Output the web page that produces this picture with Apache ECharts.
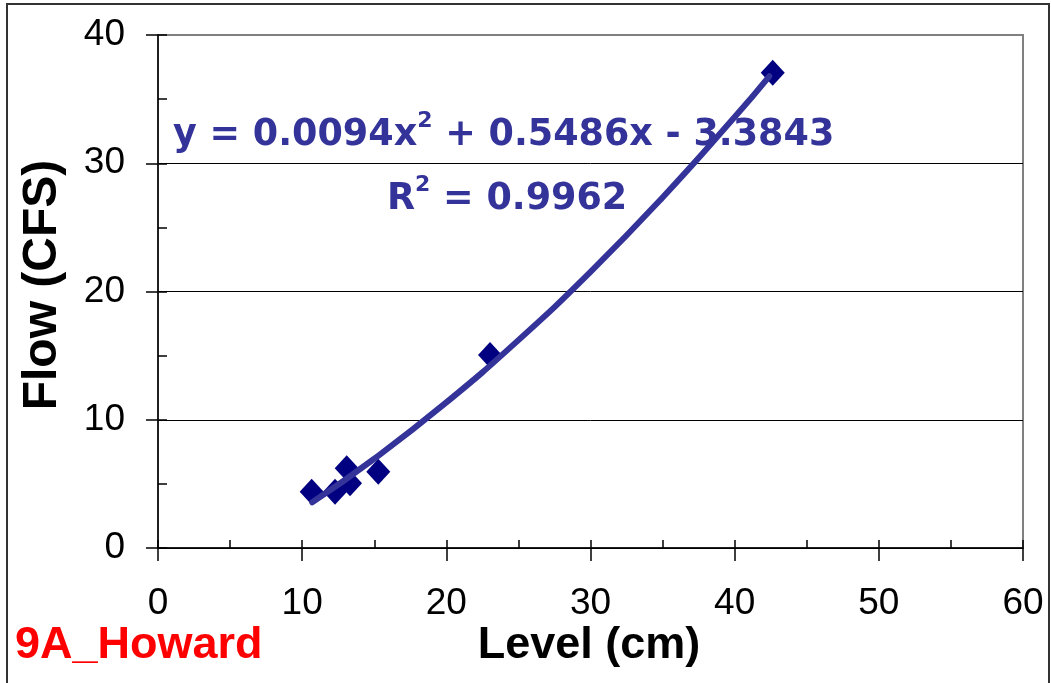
<!DOCTYPE html>
<html>
<head>
<meta charset="utf-8">
<script src="https://cdn.jsdelivr.net/npm/echarts@6/dist/echarts.min.js"></script>
<style>
  html, body { margin: 0; padding: 0; background: #fff; }
  #chart { width: 1051px; height: 683px; }
</style>
</head>
<body>
<div id="chart"></div>
<script>
// measured points
const levelCm = [10.66, 12.28, 13.32, 13.09, 15.28, 23.03, 42.64];
const flowCfs = [4.39, 4.39, 5.04, 6.21, 5.95, 15.05, 37.06];

// poly trendline
const trendLevel = [10.7, 15, 20, 25, 30, 35, 40, 42.4];
const trendFlow = [3.56, 6.96, 11.35, 16.21, 21.53, 27.33, 33.6, 36.78];

const xTicks = [0, 10, 20, 30, 40, 50, 60];
const yTicks = [0, 10, 20, 30, 40];

const eqText = ['y = 0.0094x', '2', ' + 0.5486x - 3.3843'];
const r2Text = ['R', '2', ' = 0.9962'];

const labelFont = { fontFamily: 'Liberation Sans', fontSize: 37, color: '#000' };
const blue = '#333399';

const richEq = {
  m: { fontFamily: 'DejaVu Sans', fontWeight: 'bold', fontSize: 36.5, lineHeight: 52, fill: blue },
  s: { fontFamily: 'DejaVu Sans', fontWeight: 'bold', fontSize: 22, lineHeight: 22, verticalAlign: 'top', fill: blue }
};

let myChart = echarts.init(document.getElementById('chart'));
myChart.setOption({
  animation: false,
  backgroundColor: '#fff',
  grid: {
    left: 158, top: 35, right: 28, bottom: 135,
    show: true, borderColor: '#808080', borderWidth: 2
  },
  xAxis: [
    {
      type: 'value', min: xTicks[0], max: xTicks[xTicks.length - 1], interval: 10,
      axisLine: { onZero: false, lineStyle: { color: '#000', width: 1.5 } },
      axisTick: { inside: false, length: 13, lineStyle: { color: '#000', width: 1.5 } },
      axisLabel: Object.assign({ margin: 37 }, labelFont),
      splitLine: { show: false }
    },
    {
      type: 'value', min: 0, max: 60, interval: 5, position: 'bottom',
      axisLine: { show: false },
      axisTick: { inside: true, length: 8, lineStyle: { color: '#000', width: 1.5 } },
      axisLabel: { show: false },
      splitLine: { show: false }
    }
  ],
  yAxis: [
    {
      type: 'value', min: yTicks[0], max: yTicks[yTicks.length - 1], interval: 10,
      axisLine: { show: true, onZero: false, lineStyle: { color: '#000', width: 1.5 } },
      axisTick: { show: true, inside: false, length: 12, lineStyle: { color: '#000', width: 1.5 } },
      axisLabel: Object.assign({ margin: 33 }, labelFont),
      splitLine: { show: true, showMaxLine: false, lineStyle: { color: '#000', width: 1 } }
    },
    {
      type: 'value', min: 0, max: 40, interval: 5, position: 'left',
      axisLine: { show: false },
      axisTick: { show: true, inside: true, length: 9, lineStyle: { color: '#000', width: 1.5 } },
      axisLabel: { show: false },
      splitLine: { show: false }
    }
  ],
  series: [
    {
      type: 'scatter',
      xAxisIndex: 0, yAxisIndex: 0,
      data: levelCm.map((x, i) => [x, flowCfs[i]]),
      symbol: 'diamond',
      symbolSize: [24, 26],
      itemStyle: { color: '#000080', opacity: 1 },
      z: 2
    },
    {
      type: 'line',
      xAxisIndex: 0, yAxisIndex: 0,
      data: trendLevel.map((x, i) => [x, trendFlow[i]]),
      smooth: true,
      showSymbol: false,
      lineStyle: { color: blue, width: 6, cap: 'round' },
      z: 3
    }
  ],
  graphic: [
    {
      type: 'rect', silent: true,
      shape: { x: 7, y: 4, width: 1042, height: 700 },
      style: { fill: 'none', stroke: '#333', lineWidth: 2 }
    },
    {
      type: 'text', x: 43, y: 285, rotation: Math.PI / 2,
      style: {
        text: 'Flow (CFS)', fontFamily: 'Liberation Sans', fontWeight: 'bold', fontSize: 48,
        fill: '#000', align: 'center', verticalAlign: 'middle'
      }
    },
    {
      type: 'text', x: 589, y: 646,
      style: {
        text: 'Level (cm)', fontFamily: 'Liberation Sans', fontWeight: 'bold', fontSize: 45,
        fill: '#000', align: 'center', verticalAlign: 'middle'
      }
    },
    {
      type: 'text', x: 15, y: 646,
      style: {
        text: '9A_Howard', fontFamily: 'Liberation Sans', fontWeight: 'bold', fontSize: 45,
        fill: '#ff0000', align: 'left', verticalAlign: 'middle'
      }
    },
    {
      type: 'text', x: 173, y: 110, z: 10,
      style: {
        text: '{m|' + eqText[0] + '}{s|' + eqText[1] + '}{m|' + eqText[2] + '}',
        rich: richEq, align: 'left', verticalAlign: 'top'
      }
    },
    {
      type: 'text', x: 387, y: 174, z: 10,
      style: {
        text: '{m|' + r2Text[0] + '}{s|' + r2Text[1] + '}{m|' + r2Text[2] + '}',
        rich: richEq, align: 'left', verticalAlign: 'top'
      }
    }
  ]
});
</script>
</body>
</html>
